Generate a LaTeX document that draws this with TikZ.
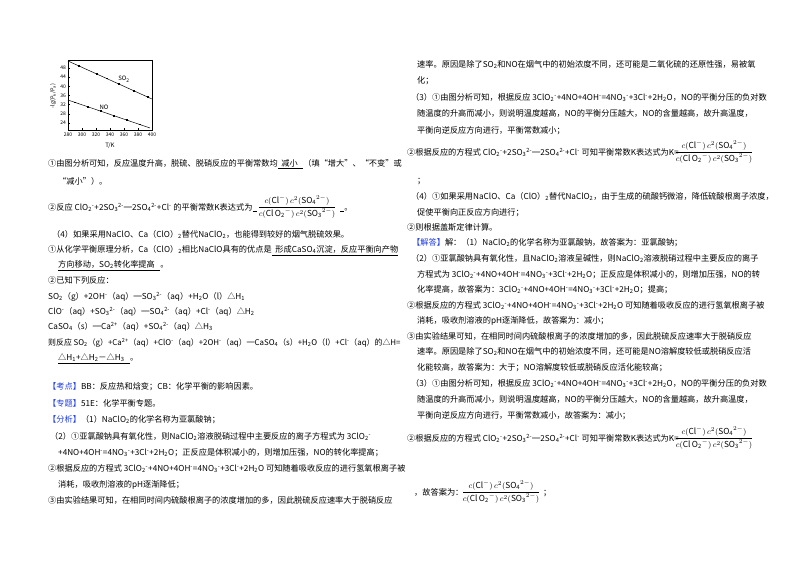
\documentclass[tikz,border=0pt]{standalone}
\usepackage{fontspec}
\setmainfont{Noto Sans CJK SC}
\newcommand\chdn[1]{\textsubscript{#1}}
\newcommand\chup[1]{\textsuperscript{#1}}
\newcommand\fs{\fontsize{8.2}{10}\selectfont}
\newcommand\Kfrac{{\fontsize{8.3}{9}\selectfont$\displaystyle\frac{c(\mathrm{Cl}^-)\,c^2(\mathrm{SO_4}^{2-})}{c(\mathrm{Cl\,O_2}^-)\,c^2(\mathrm{SO_3}^{2-})}$}}
\newcommand\rxA{3ClO\chdn{2}\chup{-}+4NO+4OH\chup{-}=4NO\chdn{3}\chup{-}+3Cl\chup{-}+2H\chdn{2}O}
\newcommand\rxB{ClO\chdn{2}\chup{-}+2SO\chdn{3}\chup{2-}═2SO\chdn{4}\chup{2-}+Cl\chup{-}}
\definecolor{kblue}{RGB}{30,60,230}
\tikzset{t/.style={anchor=base west,inner sep=0,font=\fs},
 ax/.style={font=\fontsize{5}{6}\selectfont,inner sep=0},
 dl/.style={line width=0.5pt},
 mk/.style={fill=black,inner sep=0,minimum size=1.6pt}}
\begin{document}
\begin{tikzpicture}[x=1pt,y=-1pt]
\useasboundingbox[fill=white] (0,0) rectangle (800,565);
% graph
\draw[line width=0.4pt] (68,60) rectangle (152,130);
\foreach \v in {24,28,...,48}{\draw (68,{68+(48-\v)*2.29})--(70,{68+(48-\v)*2.29}); \node[ax,anchor=east] at (66,{68+(48-\v)*2.29}) {\v};}
\foreach \k in {280,300,...,400}{\draw ({68+(\k-280)*0.7},130)--({68+(\k-280)*0.7},128); \node[ax] at ({68+(\k-280)*0.7},135) {\k};}
\node[ax,font=\fontsize{6}{7}\selectfont] (tk) at (110,146) {T/K};
\node[ax,rotate=90,font=\fontsize{5.5}{6}\selectfont] (yl) at (53,96) {-lg(P\chdn{k}/P\chdn{a})};
\draw[dl] (68,61) -- (152,99);
\draw[dl] (68,100) -- (150,128);
\foreach \x in {79,97,107,119,134,148}{\node[mk] at (\x,{61+(\x-68)*38/84}) {};}
\foreach \x in {75,88,101,114,127,140}{\node[mk] at (\x,{100+(\x-68)*28/82}) {};}
\node[ax,font=\fontsize{6}{7}\selectfont] (so) at (124,79) {SO\chdn{2}};
\node[ax,font=\fontsize{6}{7}\selectfont] (no) at (104,107) {NO};
% left column
\node[t] (a1) at (48,166) {①由图分析可知，反应温度升高，脱硫、脱硝反应的平衡常数均\underline{\ \ 减小\ \ \ }（填“增大”、“不变”或};
\node[t] (a2) at (58,184) {“减小”）。};
\node[t] (a3) at (48,210) {②反应 \rxB\ 的平衡常数K表达式为\underline{\phantom{x}}};
\node[inner sep=0] (f1) at (297,207) {\Kfrac};
\node[t] (a3b) at (340,210) {\underline{\phantom{x}}。};
\node[t] (a4) at (52,237) {（4）如果采用NaClO、Ca（ClO）\chdn{2}替代NaClO\chdn{2}，也能得到较好的烟气脱硫效果。};
\node[t] (a5) at (48,252) {①从化学平衡原理分析，Ca（ClO）\chdn{2}相比NaClO具有的优点是\underline{\ \ 形成CaSO\chdn{4}沉淀，反应平衡向产物}};
\node[t] (a6) at (58,267) {\underline{方向移动，SO\chdn{2}转化率提高\ \ \ }。};
\node[t] (a7) at (48,283) {②已知下列反应：};
\node[t] (a8) at (48,299) {SO\chdn{2}（g）+2OH\chup{-}（aq）═SO\chdn{3}\chup{2-}（aq）+H\chdn{2}O（l）△H\chdn{1}};
\node[t] (a9) at (48,314) {ClO\chup{-}（aq）+SO\chdn{3}\chup{2-}（aq）═SO\chdn{4}\chup{2-}（aq）+Cl\chup{-}（aq）△H\chdn{2}};
\node[t] (a10) at (48,329) {CaSO\chdn{4}（s）═Ca\chup{2+}（aq）+SO\chdn{4}\chup{2-}（aq）△H\chdn{3}};
\node[t,font=\fontsize{7.9}{10}\selectfont] (a11) at (48,345) {则反应 SO\chdn{2}（g）+Ca\chup{2+}（aq）+ClO\chup{-}（aq）+2OH\chup{-}（aq）═CaSO\chdn{4}（s）+H\chdn{2}O（l）+Cl\chup{-}（aq）的△H=};
\node[t] (a12) at (58,360) {\underline{△H\chdn{1}+△H\chdn{2}－△H\chdn{3}\ \ \ }。};
\node[t] (a13) at (48,389) {\textcolor{kblue}{【考点】}BB：反应热和焓变；CB：化学平衡的影响因素。};
\node[t] (a14) at (48,406) {\textcolor{kblue}{【专题】}51E：化学平衡专题。};
\node[t] (a15) at (48,422) {\textcolor{kblue}{【分析】}（1）NaClO\chdn{2}的化学名称为亚氯酸钠；};
\node[t] (a16) at (50,439) {（2）①亚氯酸钠具有氧化性，则NaClO\chdn{2}溶液脱硝过程中主要反应的离子方程式为 3ClO\chdn{2}\chup{-}};
\node[t] (a17) at (58,455) {+4NO+4OH\chup{-}=4NO\chdn{3}\chup{-}+3Cl\chup{-}+2H\chdn{2}O；正反应是体积减小的，则增加压强，NO的转化率提高；};
\node[t] (a18) at (48,471) {②根据反应的方程式 \rxA\ 可知随着吸收反应的进行氢氧根离子被};
\node[t] (a19) at (58,487) {消耗，吸收剂溶液的pH逐渐降低；};
\node[t] (a20) at (48,503) {③由实验结果可知，在相同时间内硫酸根离子的浓度增加的多，因此脱硫反应速率大于脱硝反应};
% right column
\node[t] (b1) at (417,67) {速率。原因是除了SO\chdn{2}和NO在烟气中的初始浓度不同，还可能是二氧化硫的还原性强，易被氧};
\node[t] (b2) at (417,83) {化；};
\node[t] (b3) at (411,100) {（3）①由图分析可知，根据反应 \rxA，NO的平衡分压的负对数};
\node[t] (b4) at (417,116) {随温度的升高而减小，则说明温度越高，NO的平衡分压越大，NO的含量越高，故升高温度，};
\node[t] (b5) at (417,133) {平衡向逆反应方向进行，平衡常数减小；};
\node[t] (b6) at (407,155) {②根据反应的方程式 \rxB\ 可知平衡常数K表达式为K=};
\node[inner sep=0] (f2) at (714,152) {\Kfrac};
\node[t] (b7) at (417,183) {；};
\node[t] (b8) at (411,199) {（4）①如果采用NaClO、Ca（ClO）\chdn{2}替代NaClO\chdn{2}，由于生成的硫酸钙微溶，降低硫酸根离子浓度，};
\node[t] (b9) at (417,215) {促使平衡向正反应方向进行；};
\node[t] (b10) at (407,230) {②则根据盖斯定律计算。};
\node[t] (b11) at (412,245) {\textcolor{kblue}{【解答】}解：（1）NaClO\chdn{2}的化学名称为亚氯酸钠，故答案为：亚氯酸钠；};
\node[t] (b12) at (411,261) {（2）①亚氯酸钠具有氧化性，且NaClO\chdn{2}溶液呈碱性，则NaClO\chdn{2}溶液脱硝过程中主要反应的离子};
\node[t] (b13) at (417,277) {方程式为 \rxA；正反应是体积减小的，则增加压强，NO的转};
\node[t] (b14) at (417,292) {化率提高，故答案为：\rxA；提高；};
\node[t] (b15) at (407,308) {②根据反应的方程式 \rxA\ 可知随着吸收反应的进行氢氧根离子被};
\node[t] (b16) at (417,323) {消耗，吸收剂溶液的pH逐渐降低，故答案为：减小；};
\node[t] (b17) at (407,339) {③由实验结果可知，在相同时间内硫酸根离子的浓度增加的多，因此脱硫反应速率大于脱硝反应};
\node[t] (b18) at (417,354) {速率。原因是除了SO\chdn{2}和NO在烟气中的初始浓度不同，还可能是NO溶解度较低或脱硝反应活};
\node[t] (b19) at (417,370) {化能较高，故答案为：大于；NO溶解度较低或脱硝反应活化能较高；};
\node[t] (b20) at (411,386) {（3）①由图分析可知，根据反应 \rxA，NO的平衡分压的负对数};
\node[t] (b21) at (417,402) {随温度的升高而减小，则说明温度越高，NO的平衡分压越大，NO的含量越高，故升高温度，};
\node[t] (b22) at (417,418) {平衡向逆反应方向进行，平衡常数减小，故答案为：减小；};
\node[t] (b23) at (407,441) {②根据反应的方程式 \rxB\ 可知平衡常数K表达式为K=};
\node[inner sep=0] (f3) at (714,438) {\Kfrac};
\node[t] (b24) at (414,495) {，故答案为：};
\node[inner sep=0] (f4) at (501,492) {\Kfrac};
\node[t] (b25) at (543,495) {；};
\end{tikzpicture}
\end{document}
